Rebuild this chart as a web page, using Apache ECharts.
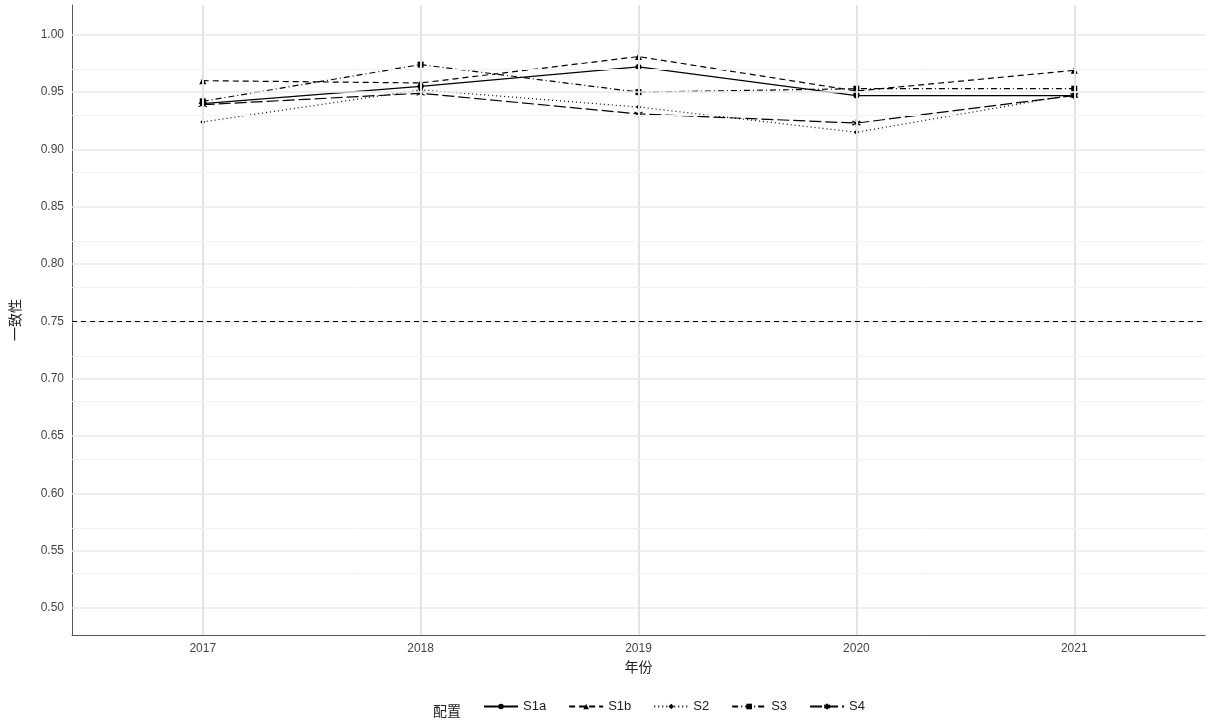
<!DOCTYPE html><html><head><meta charset="utf-8"><script src="https://cdn.jsdelivr.net/npm/echarts@6/dist/echarts.min.js"></script></head><body style="margin:0"><div id="c" style="width:1213px;height:728px"></div><script>
const years=[2017,2018,2019,2020,2021];
const S1a=[0.940,0.955,0.972,0.947,0.947];
const S1b=[0.960,0.958,0.981,0.951,0.969];
const S2=[0.924,0.952,0.937,0.915,0.948];
const S3=[0.942,0.974,0.950,0.953,0.953];
const S4=[0.939,0.949,0.931,0.923,0.947];
const yTicks=[0.50,0.55,0.60,0.65,0.70,0.75,0.80,0.85,0.90,0.95,1.00];
const yMinor=[0.525,0.575,0.625,0.675,0.725,0.775,0.825,0.875,0.925,0.975];
const star='path://M0,-10L0,10M-8.7,-5L8.7,5M-8.7,5L8.7,-5';
const defs=[['S1a',S1a,'solid','circle',6],['S1b',S1b,[6,4],'triangle',7],['S2',S2,[1,3],'diamond',5],['S3',S3,[6,3,1,3],'rect',6],['S4',S4,[12,4],star,8]];
const series=defs.map(([n,d,t,s,sz])=>({name:n,type:'line',data:years.map((y,i)=>[y,d[i]]),symbol:s,symbolSize:sz,
 lineStyle:{color:'#000',width:1.2,type:t},itemStyle:{color:'#000',borderColor:'#000',borderWidth:s===star?1.2:0},z:3}));
const grid=[...years.map(y=>({xAxis:y,lineStyle:{color:'#e3e3e3',width:2,type:'solid'}})),
 ...yTicks.map(v=>({yAxis:v,lineStyle:{color:'#e8e8e8',width:1.5,type:'solid'}})),
 ...yMinor.map(v=>({yAxis:v,lineStyle:{color:'#f2f2f2',width:1,type:'solid'}}))];
series.push({type:'line',data:[],z:1,markLine:{silent:true,symbol:'none',label:{show:false},data:grid}});
series.push({type:'line',data:[],z:2,markLine:{silent:true,symbol:'none',label:{show:false},lineStyle:{color:'#000',type:[5,4],width:1.2},data:[{yAxis:0.75}]}});
echarts.init(document.getElementById('c')).setOption({
 animation:false,
 grid:{left:72,right:8,top:5,bottom:93},
 legend:{bottom:10,left:478,itemGap:22,itemWidth:34,itemHeight:7,textStyle:{fontSize:13,color:'#222'},data:['S1a','S1b','S2','S3','S4']},
 graphic:[{type:'text',left:433,bottom:10,style:{text:'配置',fontSize:14,fill:'#222',fontFamily:'Noto Sans CJK SC'}}],
 xAxis:{type:'value',min:2016.4,max:2021.6,name:'年份',nameLocation:'middle',nameGap:23,nameTextStyle:{fontSize:14,color:'#222',fontFamily:'Noto Sans CJK SC'},
  axisLabel:{color:'#444',fontSize:12,customValues:years,formatter:v=>String(Math.round(v))},axisTick:{show:false},
  axisLine:{lineStyle:{color:'#555'}},splitLine:{show:false}},
 yAxis:{type:'value',min:0.4765,max:1.026,name:'一致性',nameLocation:'middle',nameGap:50,nameTextStyle:{fontSize:14,color:'#222',fontFamily:'Noto Sans CJK SC'},
  axisLabel:{color:'#444',fontSize:12,customValues:yTicks,formatter:v=>v.toFixed(2)},
  axisTick:{show:false},axisLine:{show:true,lineStyle:{color:'#555'}},splitLine:{show:false}},
 series
});
</script></body></html>
